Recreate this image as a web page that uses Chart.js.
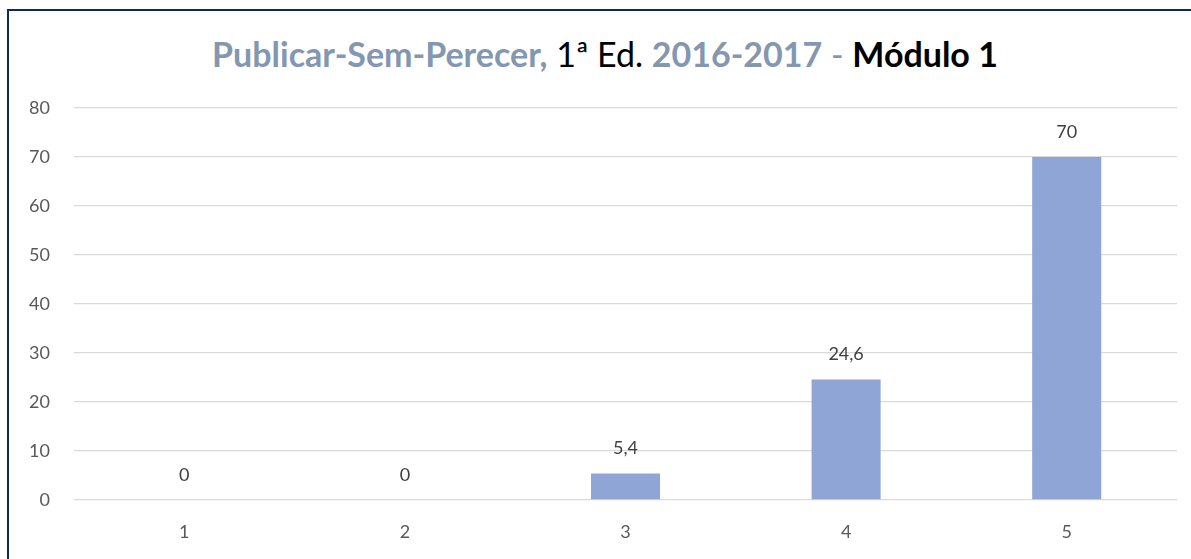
<!DOCTYPE html>
<html>
<head>
<meta charset="utf-8">
<script src="https://cdn.jsdelivr.net/npm/chart.js@4.4.1/dist/chart.umd.min.js"></script>
<style>
  html, body { margin: 0; padding: 0; background: #fff; overflow: hidden; }
  #frame { position: absolute; left: 7px; top: 9px; width: 1400px; height: 800px;
           border-left: 2px solid #0f2a5f; border-top: 2px solid #0f2a5f; }
  #title { position: absolute; left: 0; top: 33px; width: 1210px; text-align: center;
           font-family: Lato, sans-serif; font-size: 34px; color: #000; white-space: nowrap; }
  #title .blue { color: #8497b0; font-weight: bold; }
  #title b { font-weight: bold; }
  #wrap { position: absolute; left: 0; top: 0; width: 1191px; height: 559px; }
</style>
</head>
<body>
<div id="frame"></div>
<div id="title"><span class="blue">Publicar-Sem-Perecer,</span> 1ª Ed. <span class="blue">2016-2017</span> <span class="blue" style="font-weight:normal">-</span> <b>Módulo 1</b></div>
<div id="wrap"><canvas id="myChart"></canvas></div>
<script>
const ctx = document.getElementById('myChart');

// data
const categorias = ['1', '2', '3', '4', '5'];
const valores = [0, 0, 5.4, 24.6, 70];
const ticksY = [0, 10, 20, 30, 40, 50, 60, 70, 80];

// value labels over the bars
const rotulos = {
  id: 'rotulos',
  afterDatasetsDraw(chart) {
    const c = chart.ctx;
    const meta = chart.getDatasetMeta(0);
    c.save();
    c.font = '18px Lato, sans-serif';
    c.fillStyle = '#404040';
    c.textAlign = 'center';
    c.textBaseline = 'middle';
    meta.data.forEach((bar, i) => {
      const txt = String(valores[i]).replace('.', ',');
      c.fillText(txt, bar.x, bar.y - 25);
    });
    c.restore();
  }
};

const myChart = new Chart(ctx, {
  type: 'bar',
  data: {
    labels: categorias,
    datasets: [{
      label: 'Módulo 1',
      data: valores,
      backgroundColor: '#8fa5d5',
      categoryPercentage: 1,
      barPercentage: 0.313
    }]
  },
  options: {
    responsive: true,
    maintainAspectRatio: false,
    animation: false,
    layout: { padding: { top: 108, right: 14, bottom: 0, left: 0 } },
    plugins: {
      legend: { display: false },
      tooltip: { enabled: false }
    },
    scales: {
      x: {
        grid: { display: false, drawTicks: false },
        border: { display: false },
        ticks: { color: '#595959', font: { family: 'Lato', size: 18 }, padding: 21 },
        afterFit(scale) { scale.height = 59; }
      },
      y: {
        min: 0,
        max: 80,
        afterBuildTicks(scale) { scale.ticks = ticksY.map(v => ({ value: v })); },
        grid: { color: '#d9d9d9', lineWidth: 1.3, drawTicks: false },
        border: { display: false },
        ticks: { color: '#595959', font: { family: 'Lato', size: 18 }, padding: 24 },
        afterFit(scale) { scale.width = 74; }
      }
    }
  },
  plugins: [rotulos]
});
</script>
</body>
</html>
